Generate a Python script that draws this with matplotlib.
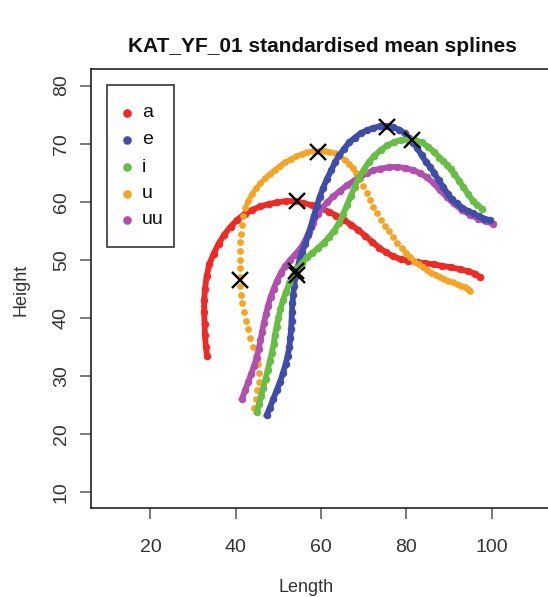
import numpy as np
import matplotlib
matplotlib.use("Agg")
import matplotlib.pyplot as plt
from matplotlib.patches import Rectangle

plt.rcParams['font.family'] = ['Liberation Sans', 'DejaVu Sans']

# spline points (Length, Height)
a_x = [33.3, 33.0, 32.8, 32.7, 32.6, 32.6, 32.8, 33.2, 33.8, 34.8, 36.0, 37.3, 38.8, 40.4, 42.1,
       43.9, 45.8, 47.8, 49.8, 51.8, 53.8, 55.8, 57.8, 59.8, 61.8, 63.6, 65.4, 67.1, 68.8, 70.4,
       72.0, 73.6, 75.2, 76.9, 78.7, 80.5, 82.5, 84.5, 86.5, 88.5, 90.5, 92.5, 94.5, 96.2, 97.3]
a_y = [33.5, 35.0, 37.0, 39.0, 41.0, 43.0, 45.0, 47.2, 49.2, 51.0, 52.8, 54.3, 55.7, 56.9, 57.9,
       58.6, 59.2, 59.6, 59.9, 60.1, 60.1, 59.8, 59.4, 58.9, 58.3, 57.6, 56.9, 56.0, 55.1, 54.1,
       53.1, 52.1, 51.3, 50.6, 50.1, 49.8, 49.6, 49.4, 49.2, 48.95, 48.7, 48.4, 48.0, 47.6, 47.0]

e_x = [47.3, 48.0, 48.8, 49.6, 50.4, 51.1, 51.7, 52.2, 52.6, 52.8, 53.0, 53.1, 53.2, 53.3, 53.5,
       53.7, 54.0, 54.4, 55.0, 55.6, 56.3, 57.0, 57.6, 58.3, 59.0, 59.7, 60.5, 61.4, 62.4, 63.3,
       64.3, 65.4, 66.6, 67.9, 69.3, 70.8, 72.3, 73.9, 75.5, 77.0, 78.4, 79.6, 80.7, 81.7, 82.6,
       83.6, 84.6, 85.6, 86.6, 87.6, 88.7, 89.7, 90.7, 91.8, 93.1, 94.4, 95.7, 97.0, 98.3, 99.7]
e_y = [23.3, 24.5, 26.0, 27.5, 29.0, 30.5, 32.0, 33.5, 35.0, 36.5, 38.0, 39.5, 41.0, 42.5, 44.0,
       45.5, 47.0, 48.5, 50.0, 51.3, 52.7, 54.2, 55.7, 57.5, 59.2, 60.8, 62.4, 63.9, 65.4, 66.8,
       68.0, 69.1, 70.2, 71.0, 71.8, 72.3, 72.7, 73.0, 73.0, 72.8, 72.4, 71.8, 71.0, 70.1, 69.2,
       68.0, 66.9, 66.0, 64.9, 63.7, 62.5, 61.4, 60.4, 59.7, 59.0, 58.4, 58.0, 57.5, 57.1, 56.8]

i_x = [45.0, 45.5, 46.0, 46.5, 47.0, 47.5, 48.0, 48.5, 48.9, 49.2, 49.6, 50.0, 50.5, 51.1, 51.8,
       52.6, 53.5, 54.5, 55.6, 56.8, 58.0, 59.3, 60.6, 61.9, 63.1, 64.2, 65.2, 66.1, 67.0, 67.9,
       68.9, 70.0, 71.2, 72.5, 74.0, 75.6, 77.2, 78.8, 80.4, 82.0, 83.6, 85.1, 86.5, 87.8, 88.7,
       89.5, 90.4, 91.3, 92.4, 93.4, 94.5, 95.6, 96.7, 97.7]
i_y = [23.8, 25.2, 26.6, 28.0, 29.5, 31.0, 32.5, 34.0, 35.5, 37.0, 38.5, 40.0, 41.5, 43.0, 44.5,
       46.0, 47.3, 48.5, 49.5, 50.4, 51.2, 52.0, 52.9, 53.9, 55.0, 56.3, 57.8, 59.4, 61.0, 62.6,
       64.1, 65.5, 66.8, 67.9, 68.9, 69.7, 70.3, 70.6, 70.7, 70.6, 70.2, 69.5, 68.6, 67.6, 67.0,
       66.4, 65.6, 64.8, 63.6, 62.5, 61.3, 60.2, 59.4, 58.8]

u_x = [44.2, 44.7, 45.1, 45.4, 45.5, 45.2, 44.7, 44.0, 43.4, 42.9, 42.4, 42.0, 41.6, 41.3, 41.1,
       41.0, 41.0, 41.0, 41.0, 41.1, 41.3, 41.5, 41.8,
       42.3, 43.0, 43.8, 44.8, 45.8, 46.9, 48.0, 49.2, 50.4, 51.6, 52.9, 54.2, 55.5, 56.8, 58.1,
       59.4, 60.7, 62.0, 63.3, 64.5, 65.6, 66.6, 67.5, 68.3,
       69.1, 69.9, 70.7, 71.5, 72.3, 73.2, 74.1, 75.0, 75.9, 76.9, 77.9,
       78.9, 79.9, 80.9, 81.9, 82.9, 83.9, 84.9, 85.9, 86.9, 87.9, 88.9, 89.9, 90.9, 91.9, 92.9,
       93.9, 94.6, 95.0]
u_y = [24.5, 26.0, 27.5, 29.0, 30.5, 32.0, 33.5, 35.0, 36.5, 38.0, 39.5, 41.0, 42.5, 44.0, 45.5,
       47.0, 48.5, 50.0, 51.5, 53.0, 54.5, 56.0, 57.5,
       59.0, 60.2, 61.3, 62.3, 63.2, 64.0, 64.8, 65.5, 66.2, 66.8, 67.3, 67.8, 68.2, 68.5, 68.7,
       68.8, 68.8, 68.6, 68.3, 67.8, 67.2, 66.5, 65.8, 65.0,
       63.9, 62.7, 61.5, 60.3, 59.1, 58.0, 56.9, 55.9, 54.9, 53.9, 52.9,
       52.0, 51.2, 50.5, 49.8, 49.2, 48.7, 48.2, 47.8, 47.4, 47.0, 46.7, 46.4, 46.1, 45.8, 45.5,
       45.3, 45.0, 44.6]
# where the u points sit close together (index ranges)
u_dense = [(23, 47), (58, 76)]

uu_x = [41.5, 42.2, 42.9, 43.6, 44.3, 44.9, 45.4, 45.8, 46.2, 46.6, 47.1, 47.6, 48.2, 48.9, 49.7,
        50.6, 51.6, 52.7, 53.9, 55.1, 56.2, 57.2, 58.2, 59.2, 60.3, 61.5, 62.9, 64.5, 66.1, 67.7,
        69.2, 70.8, 72.3, 73.9, 75.9, 77.8, 79.8, 81.7, 83.3, 84.8, 86.4, 87.9, 89.5, 91.1, 93.0,
        95.0, 96.8, 98.6, 100.4]
uu_y = [26.1, 27.5, 28.9, 30.3, 31.7, 33.1, 34.6, 36.1, 37.6, 39.1, 40.6, 42.1, 43.6, 45.0, 46.4,
        47.7, 48.9, 49.9, 50.9, 51.9, 53.2, 54.8, 56.4, 57.8, 58.9, 59.9, 60.9, 61.9, 62.8, 63.6,
        64.3, 64.9, 65.4, 65.7, 65.9, 66.0, 65.8, 65.4, 64.9, 64.2, 63.2, 62.0, 60.8, 59.7, 58.6,
        57.7, 57.1, 56.6, 56.2]

# crosses
mark_x = [54.3, 41.1, 59.4, 75.6, 81.3, 54.1, 54.4]
mark_y = [60.1, 46.5, 68.6, 72.9, 70.6, 48.0, 47.3]

vowels = ['a', 'e', 'i', 'u', 'uu']
colours = {'a': '#EC2A26', 'e': '#3F4DA8', 'i': '#68BD45', 'u': '#F4A526', 'uu': '#B04FAE'}

W, H = 548, 597
fig = plt.figure(figsize=(W / 100, H / 100), dpi=100)
ax = fig.add_axes([90.7 / W, (H - 508.3) / H, (551.2 - 90.7) / W, (508.3 - 69.3) / H])

ms = 5.4
lw = 4.2
ax.plot(a_x, a_y, '-o', color=colours['a'], ms=ms, lw=lw, mew=0)
ax.plot(u_x, u_y, 'o', color=colours['u'], ms=4.9, mew=0)
for i0, i1 in u_dense:
    ax.plot(u_x[i0:i1], u_y[i0:i1], '-', color=colours['u'], lw=3.6, solid_capstyle='round')
ax.plot(uu_x, uu_y, '-o', color=colours['uu'], ms=ms, lw=lw, mew=0)
ax.plot(e_x, e_y, '-o', color=colours['e'], ms=ms, lw=lw, mew=0)
ax.plot(i_x, i_y, '-o', color=colours['i'], ms=ms, lw=lw, mew=0)
ax.plot(mark_x, mark_y, 'x', color='black', ms=12, mew=1.7, ls='none')

ax.set_xlim(6, 114)
ax.set_ylim(7.2, 82.8)
ax.set_xticks([20, 40, 60, 80, 100])
ax.set_yticks([10, 20, 30, 40, 50, 60, 70, 80])
ax.tick_params(axis='both', direction='out', length=8, width=1.1, color='#555555',
               labelsize=14, labelcolor='#333333')
ax.tick_params(axis='x', pad=14)
ax.tick_params(axis='y', pad=7)
for lab in ax.get_yticklabels():
    lab.set_rotation(90)
    lab.set_va('center')
for s in ax.spines.values():
    s.set_linewidth(1.2)
    s.set_color('#222222')

# overlay in pixel coordinates for title, labels and legend
ov = fig.add_axes([0, 0, 1, 1], facecolor='none')
ov.set_xlim(0, W)
ov.set_ylim(H, 0)
ov.axis('off')
ov.text(322, 47, 'KAT_YF_01 standardised mean splines', fontsize=15, fontweight='bold',
        ha='center', va='center', color='#111111')
ov.text(306, 587, 'Length', fontsize=13, ha='center', va='center', color='#333333')
ov.text(21, 290, 'Height', fontsize=13, ha='center', va='center', rotation=90, color='#333333')

ov.add_patch(Rectangle((107.3, 85), 66.7, 161.7, fill=False, ec='#444444', lw=1.3))
rows = [112.7, 140, 167, 193.5, 220]
for v, ry in zip(vowels, rows):
    ov.plot([126.7], [ry], 'o', color=colours[v], ms=6.2, mew=0)
    ov.text(142, ry, v, fontsize=14, ha='left', va='center', color='#111111')

fig.savefig('out.png', dpi=100)
